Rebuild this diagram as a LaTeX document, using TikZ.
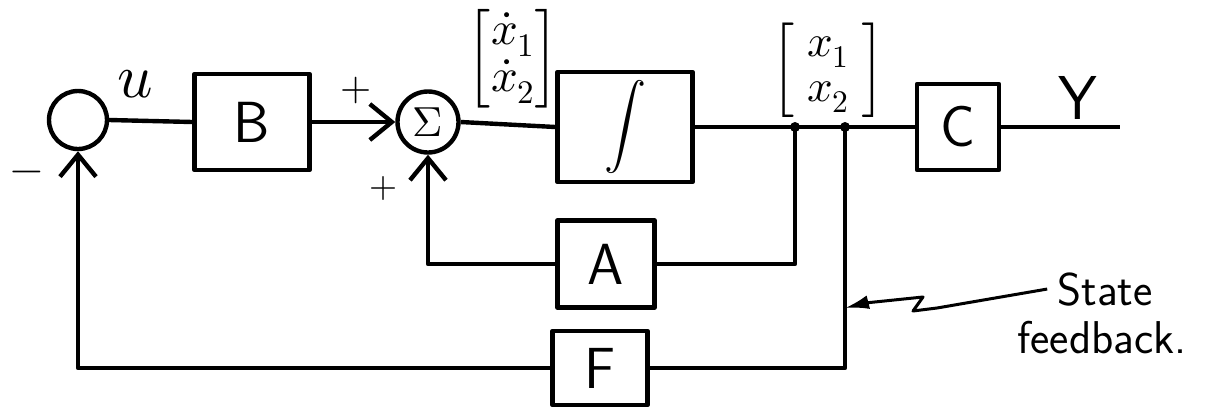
\documentclass[tikz,border=0pt]{standalone}
\usepackage{amsmath}
\usepackage{unicode-math}
\setmathfont{Latin Modern Math}
\usetikzlibrary{arrows.meta}
\begin{document}
\begin{tikzpicture}[x=1pt,y=-1pt,line width=4.4pt,line join=round,
  blk/.style={draw,line width=4.4pt,inner sep=0pt,font=\sffamily\fontsize{58}{58}\selectfont},
  sumc/.style={draw,circle,line width=4.4pt,inner sep=0pt,minimum size=#1},
  barb/.style={-{Straight Barb[length=22pt,width=36pt]}},
  lbl/.style={inner sep=0pt},
  dotj/.style={circle,fill,inner sep=0pt,minimum size=10pt},
  pointer/.style={line width=3pt,-{Latex[length=24pt,width=14pt]}}]
\useasboundingbox (0,0) rectangle (1220,408);
% blocks
\node[sumc=58pt] (c1) at (78,120) {};
\node[blk,minimum width=115pt,minimum height=96pt] (B) at (252,122) {B};
\node[sumc=61pt,font=\fontsize{42}{42}\selectfont] (s) at (428,122) {$\Sigma$};
\node[blk,minimum width=135pt,minimum height=110pt,font=\fontsize{42}{42}\selectfont] (I) at (625,127) {$\displaystyle\int$};
\node[blk,minimum width=82pt,minimum height=86pt] (C) at (958,127) {C};
\node[blk,minimum width=97pt,minimum height=87pt] (A) at (606,264) {A};
\node[blk,minimum width=95pt,minimum height=74pt] (F) at (600,368) {F};
% junctions
\coordinate (t1) at (795,127);
\coordinate (t2) at (845,127);
\coordinate (yout) at (1120,127);
\node[dotj] (j1) at (t1) {};
\node[dotj] (j2) at (t2) {};
% main path
\draw (c1.east) -- (B.west);
\draw[barb] (B.east) -- (s.west);
\draw (s.east) -- (I.west);
\draw (I.east) -- (C.west);
\draw (C.east) -- (yout);
% A loop
\draw (t1) -- (t1 |- A.east) -- (A.east);
\draw[barb] (A.west) -- (s.south |- A.west) -- (s.south);
% F loop
\draw (t2) -- (t2 |- F.east) -- (F.east);
\draw[barb] (F.west) -- (c1.south |- F.west) -- (c1.south);
% labels
\node[lbl,font=\fontsize{62}{62}\selectfont] (u) at (135,84) {$u$};
\node[lbl,font=\fontsize{40}{40}\selectfont] (p1) at (356,90) {$+$};
\node[lbl,font=\fontsize{42}{42}\selectfont] (m1) at (27,177) {$-$};
\node[lbl,font=\fontsize{36}{36}\selectfont] (p2) at (383,188) {$+$};
\node[lbl,font=\fontsize{47}{47}\selectfont] (xd) at (513,59) {$\begin{bmatrix}\dot x_1\\ \dot x_2\end{bmatrix}$};
\node[lbl,font=\fontsize{45}{45}\selectfont] (xv) at (828,70) {$\begin{bmatrix}\;x_1\;\\ \;x_2\;\end{bmatrix}$};
\node[lbl,font=\sffamily\fontsize{62}{62}\selectfont] (Y) at (1078,98) {Y};
% state feedback annotation
\node[lbl,anchor=base,font=\sffamily\fontsize{46}{46}\selectfont] (st1) at (1105,305) {State};
\node[lbl,anchor=base,font=\sffamily\fontsize{46}{46}\selectfont] (st2) at (1102,353) {feedback.};
\coordinate (ptip) at (845,308);
\draw[pointer] ([xshift=-8pt]st1.west) -- (937,308) -- (913,311) -- (923,297) -- (865,303) -- (ptip);
\end{tikzpicture}
\end{document}
